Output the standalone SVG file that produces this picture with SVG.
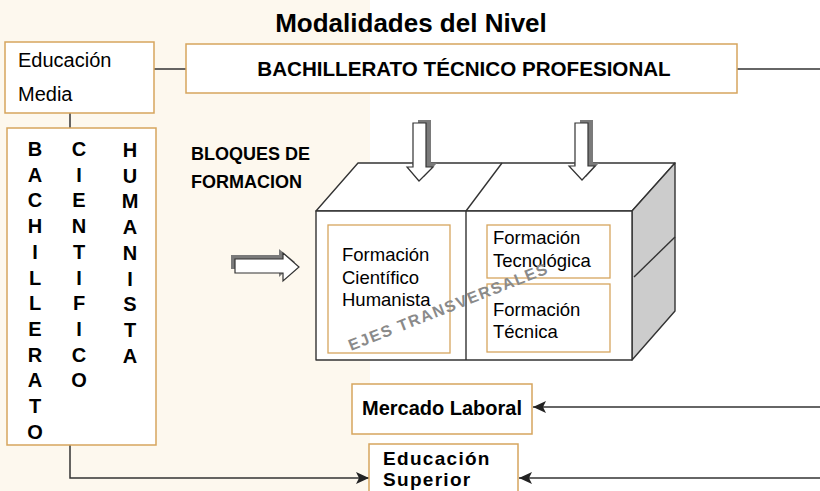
<svg xmlns="http://www.w3.org/2000/svg" width="820" height="491" viewBox="0 0 820 491">
<defs>
<style>
.box{fill:#fff;stroke:#D6A55E;stroke-width:1.5}
.ibox{fill:#fff;stroke:#D6A55E;stroke-width:1.3}
.ln{fill:none;stroke:#333;stroke-width:1.5}
.cube{stroke:#333;stroke-width:1.4;stroke-linejoin:round}
.b{font-family:"Liberation Sans",Arial,sans-serif;font-weight:bold;fill:#000}
.r{font-family:"Liberation Sans",Arial,sans-serif;fill:#000}
.col{font-family:"Liberation Sans",Arial,sans-serif;font-weight:bold;font-size:20px;text-anchor:middle;fill:#000}
.shadow{fill:#7a7a7a}
.barrow{fill:#fff;stroke:#333;stroke-width:1.2;stroke-linejoin:miter}
</style>
<marker id="ah" markerUnits="userSpaceOnUse" markerWidth="14" markerHeight="12" refX="13" refY="6" orient="auto">
<path d="M0,0 L13,6 L0,12 L3,6 Z" fill="#222"/>
</marker>
</defs>
<rect x="0" y="0" width="820" height="491" fill="#fff"/>
<rect x="0" y="0" width="370" height="491" fill="#FDF8EE"/>

<text class="b" x="411" y="32" font-size="26" text-anchor="middle">Modalidades del Nivel</text>

<g id="connectors">
<line class="ln" x1="154" y1="69" x2="186" y2="69"/>
<line class="ln" x1="737" y1="69" x2="820" y2="69"/>
<line class="ln" x1="70" y1="113" x2="70" y2="128"/>
<polyline class="ln" points="70,445 70,478 369,478" marker-end="url(#ah)"/>
<line class="ln" x1="820" y1="407" x2="533" y2="407" marker-end="url(#ah)"/>
<line class="ln" x1="820" y1="478" x2="519" y2="478" marker-end="url(#ah)"/>
</g>

<g id="educacion-media">
<rect class="box" x="5" y="42" width="149" height="71"/>
<text class="r" x="18" y="67" font-size="20">Educación</text>
<text class="r" x="18" y="101" font-size="20">Media</text>
</g>

<g id="btp">
<rect class="box" x="186" y="44" width="551" height="49"/>
<text class="b" x="464" y="76" font-size="20.6" text-anchor="middle">BACHILLERATO TÉCNICO PROFESIONAL</text>
</g>

<g id="bch">
<rect class="box" x="7" y="128" width="149" height="317"/>
<text class="col"><tspan x="35" y="156">B</tspan><tspan x="35" dy="25.7">A</tspan><tspan x="35" dy="25.7">C</tspan><tspan x="35" dy="25.7">H</tspan><tspan x="35" dy="25.7">I</tspan><tspan x="35" dy="25.7">L</tspan><tspan x="35" dy="25.7">L</tspan><tspan x="35" dy="25.7">E</tspan><tspan x="35" dy="25.7">R</tspan><tspan x="35" dy="25.7">A</tspan><tspan x="35" dy="25.7">T</tspan><tspan x="35" dy="25.7">O</tspan></text>
<text class="col"><tspan x="79" y="156">C</tspan><tspan x="79" dy="25.7">I</tspan><tspan x="79" dy="25.7">E</tspan><tspan x="79" dy="25.7">N</tspan><tspan x="79" dy="25.7">T</tspan><tspan x="79" dy="25.7">I</tspan><tspan x="79" dy="25.7">F</tspan><tspan x="79" dy="25.7">I</tspan><tspan x="79" dy="25.7">C</tspan><tspan x="79" dy="25.7">O</tspan></text>
<text class="col"><tspan x="130" y="157">H</tspan><tspan x="130" dy="25.7">U</tspan><tspan x="130" dy="25.7">M</tspan><tspan x="130" dy="25.7">A</tspan><tspan x="130" dy="25.7">N</tspan><tspan x="130" dy="25.7">I</tspan><tspan x="130" dy="25.7">S</tspan><tspan x="130" dy="25.7">T</tspan><tspan x="130" dy="25.7">A</tspan></text>
</g>

<g id="bloques-label">
<text class="b" x="191" y="160" font-size="18">BLOQUES DE</text>
<text class="b" x="191" y="188" font-size="18">FORMACION</text>
</g>

<g id="arrow-right">
<path class="shadow" d="M231,255 H279 V249 L295,262 L279,277 V269 H231 Z"/>
<path class="barrow" d="M235,259 H283 V253 L299,267 L283,281 V273 H235 Z"/>
</g>

<g id="cube">
<polygon class="cube" fill="#fff" points="316,211 358,163 675,163 632,211"/>
<polygon class="cube" fill="#CCCCCC" points="632,211 675,163 675,311 632,360"/>
<rect class="cube" fill="#fff" x="316" y="211" width="316" height="149"/>
<line class="cube" x1="466" y1="211" x2="466" y2="360"/>
<line class="cube" x1="466" y1="211" x2="502" y2="163"/>
<line class="cube" x1="634" y1="277" x2="675" y2="237"/>
</g>

<g id="arrow-down-1">
<path class="shadow" d="M418,120 H431 V163 H437 L424,177 L411,163 H418 Z"/>
<path class="barrow" d="M413,123 H426 V167 H433 L419,181 L407,167 H413 Z"/>
</g>
<g id="arrow-down-2">
<path class="shadow" d="M580,120 H593 V163 H599 L586,177 L573,163 H580 Z"/>
<path class="barrow" d="M575,123 H588 V166 H595 L582,180 L569,166 H575 Z"/>
</g>

<g id="formacion-ch">
<rect class="ibox" x="328" y="225" width="122" height="128"/>
<text class="r" x="342" y="261" font-size="18.5">Formación</text>
<text class="r" x="342" y="284" font-size="18.5">Científico</text>
<text class="r" x="342" y="306" font-size="18.5">Humanista</text>
</g>

<g id="formacion-tec">
<rect class="ibox" x="487" y="225" width="123" height="53"/>
<text class="r" x="493" y="244" font-size="18.5">Formación</text>
<text class="r" x="493" y="267" font-size="18.5">Tecnológica</text>
</g>

<g id="formacion-tecnica">
<rect class="ibox" x="487" y="284" width="123" height="68"/>
<text class="r" x="493" y="316" font-size="18.5">Formación</text>
<text class="r" x="493" y="338" font-size="18.5">Técnica</text>
</g>

<text class="b" x="0" y="0" font-size="16" letter-spacing="1.5" style="fill:#8a8a8a" transform="translate(351,351) rotate(-21.5)">EJES TRANSVERSALES</text>

<g id="mercado-laboral">
<rect class="box" x="352" y="384" width="180" height="50"/>
<text class="b" x="442" y="415" font-size="20" text-anchor="middle">Mercado Laboral</text>
</g>

<g id="educacion-superior">
<rect class="box" x="369" y="444" width="149" height="60"/>
<text class="b" x="383" y="465" font-size="19" letter-spacing="1.3">Educación</text>
<text class="b" x="383" y="486" font-size="19" letter-spacing="1.3">Superior</text>
</g>
</svg>
